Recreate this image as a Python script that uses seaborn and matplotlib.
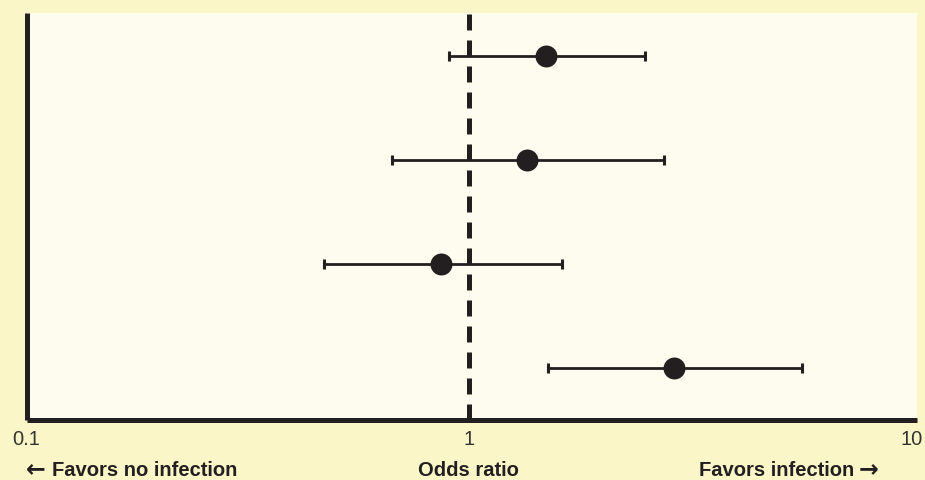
import numpy as np
import pandas as pd
import matplotlib
matplotlib.use("Agg")
import matplotlib.pyplot as plt
import seaborn as sns

# Odds ratios with 95% CI, one row per study (top to bottom)
rows = [0, 1, 2, 3]
odds_ratio = [1.49, 1.35, 0.865, 2.90]
ci_low = [0.90, 0.67, 0.47, 1.51]
ci_high = [2.50, 2.75, 1.62, 5.65]
tick_values = [0.1, 1, 10]
tick_labels = ["0.1", "1", "10"]

OUTER_BG = "#FAF6C7"
INNER_BG = "#FEFCEE"
INK = "#231F20"


def main():
    sns.set_style("white")
    plt.rcParams["font.family"] = ["Liberation Sans", "DejaVu Sans"]

    df = pd.DataFrame({"row": rows, "or": odds_ratio, "lo": ci_low, "hi": ci_high})

    fig = plt.figure(figsize=(9.25, 4.81), dpi=100, facecolor=OUTER_BG)
    ax = fig.add_axes([26.5 / 925, 1 - 421 / 481, (917 - 26.5) / 925, (421 - 14) / 481])
    ax.set_facecolor(INNER_BG)

    # reference line at OR = 1
    ax.axvline(1, ymin=0, ymax=1.005, color=INK, lw=3.6, dashes=(3.2, 2.0),
               clip_on=False, zorder=2)

    # confidence intervals
    ax.errorbar(df["or"], df["row"],
                xerr=[df["or"] - df["lo"], df["hi"] - df["or"]],
                fmt="none", ecolor=INK, elinewidth=2.0, capsize=3.6,
                capthick=2.2, zorder=3)

    # point estimates
    sns.scatterplot(data=df, x="or", y="row", ax=ax, s=250, color=INK,
                    edgecolor=INK, linewidth=0, zorder=4, legend=False)

    ax.set_xscale("log")
    ax.set_xlim(0.1, 10.27)
    ax.set_ylim(3.5, -0.413)
    ax.set_xticks(tick_values)
    ax.set_xticklabels(tick_labels)
    ax.minorticks_off()
    ax.set_yticks([])
    ax.set_xlabel("")
    ax.set_ylabel("")
    ax.tick_params(axis="x", length=0, pad=6.5, labelsize=14.5, labelcolor="#333333")

    for side in ["top", "right"]:
        ax.spines[side].set_visible(False)
    for side in ["left", "bottom"]:
        ax.spines[side].set_color(INK)
        ax.spines[side].set_linewidth(3.6)
        ax.spines[side].set_capstyle("butt")

    # bottom captions
    cap_y = 1 - 471 / 481
    bold = dict(fontsize=14.5, fontweight="bold", color=INK, va="center")
    fig.text(52 / 925, cap_y, "Favors no infection", ha="left", **bold)
    fig.text(468 / 925, cap_y, "Odds ratio", ha="center", **bold)
    fig.text(854 / 925, cap_y, "Favors infection", ha="right", **bold)

    # arrows drawn as text glyphs from DejaVu, which has them
    arrow = dict(fontsize=17, fontweight="bold", color=INK, va="center",
                 ha="center", family="DejaVu Sans")
    fig.text(36 / 925, 1 - 469 / 481, "\u2190", **arrow)
    fig.text(869 / 925, 1 - 469 / 481, "\u2192", **arrow)

    fig.savefig("out.png", dpi=100, facecolor=OUTER_BG)


if __name__ == "__main__":
    main()
